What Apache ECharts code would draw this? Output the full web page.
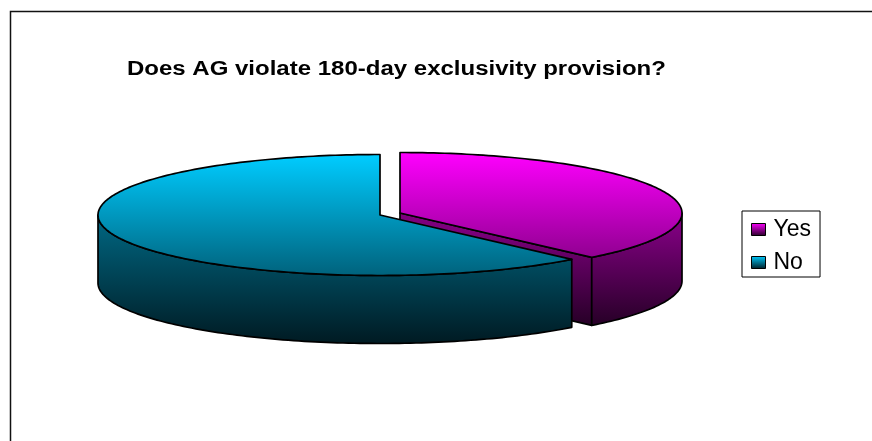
<!DOCTYPE html>
<html><head><meta charset="utf-8">
<style>html,body{margin:0;padding:0;background:#fff}#c{width:872px;height:441px}</style>
<script src="https://cdn.jsdelivr.net/npm/echarts@6/dist/echarts.min.js"></script>
</head><body><div id="c"></div>
<script>
const titleText = 'Does AG violate 180-day exclusivity provision?';
const categories = ['Yes', 'No'];
const shareValues = [38.1, 61.9];

const G = echarts.graphic.LinearGradient;
const rx = 282, ry = 60.5, depth = 68;
const layout = [
  {cx: 400, cy: 213, top: ['#ff00ff', '#7e007e'], topY: [152, 275], wall: ['#7c007c', '#240024'], wallY: [230, 328]},
  {cx: 380, cy: 215, top: ['#00ccff', '#00627c'], topY: [155, 276], wall: ['#006a86', '#001a22'], wallY: [212, 344]}
];
const total = shareValues.reduce((a, b) => a + b, 0);
const grad = (c, y) => new G(0, y[0], 0, y[1], [{offset: 0, color: c[0]}, {offset: 1, color: c[1]}], true);

function renderSlice(k, api) {
  const L = layout[k];
  let before = 0;
  for (let i = 0; i < k; i++) before += shareValues[i];
  const a0 = before / total * Math.PI * 2;
  const a1 = (before + api.value(0)) / total * Math.PI * 2;
  const P = (t, d) => [L.cx + rx * Math.sin(t), L.cy - ry * Math.cos(t) + (d || 0)];
  const arc = (s, e, d) => {
    const n = Math.max(2, Math.ceil(Math.abs(e - s) / 0.02)), out = [];
    for (let i = 0; i <= n; i++) out.push(P(s + (e - s) * i / n, d));
    return out;
  };
  const style = c => ({fill: c, stroke: '#000', lineWidth: 1.7, lineJoin: 'round'});
  const kids = [];
  const ws = Math.max(a0, Math.PI / 2), we = Math.min(a1, Math.PI * 1.5);
  if (k === 0) {
    const e = P(a1), ed = P(a1, depth);
    kids.push({type: 'polygon', shape: {points: [[L.cx, L.cy], e, ed, [L.cx, L.cy + depth]]}, style: style(grad(L.wall, L.wallY))});
  }
  if (we > ws) {
    const upper = arc(ws, we, 0), lower = arc(we, ws, depth);
    kids.push({type: 'polygon', shape: {points: upper.concat(lower)}, style: style(grad(L.wall, L.wallY))});
  }
  kids.push({type: 'polygon', shape: {points: [[L.cx, L.cy]].concat(arc(a0, a1, 0))}, style: style(grad(L.top, L.topY))});
  return {type: 'group', children: kids};
}

const chart = echarts.init(document.getElementById('c'), null, {renderer: 'canvas'});
chart.setOption({
  animation: false,
  backgroundColor: '#fff',
  legend: {
    orient: 'vertical', left: 742, top: 211,
    padding: [7, 9, 3, 9], itemGap: 10,
    itemWidth: 14, itemHeight: 12,
    borderColor: '#000', borderWidth: 1,
    backgroundColor: '#fff',
    textStyle: {fontFamily: 'Liberation Sans', fontSize: 23, lineHeight: 22, color: '#000', padding: [0, 0, 0, 3]},
    data: categories.map((name, i) => ({
      name, icon: 'rect',
      itemStyle: {
        color: new G(0, 0, 0, 1, [{offset: 0, color: layout[i].top[0]}, {offset: 1, color: layout[i].wall[1]}]),
        borderColor: '#000', borderWidth: 1
      }
    }))
  },
  graphic: [{
    type: 'polyline', silent: true,
    shape: {points: [[10.5, 441], [10.5, 11.5], [872, 11.5]]},
    style: {fill: null, stroke: '#111', lineWidth: 1.5}
  }, {
    type: 'text', silent: true, x: 127, y: 69, scaleX: 1.2,
    style: {text: titleText, fill: '#000', font: 'bold 20px "Liberation Sans"', textAlign: 'left', textVerticalAlign: 'middle'}
  }],
  series: categories.map((name, k) => ({
    type: 'custom', name, coordinateSystem: 'none', silent: true, clip: false,
    itemStyle: {color: layout[k].top[0]},
    data: [[shareValues[k]]],
    encode: {value: 0},
    renderItem: (params, api) => renderSlice(k, api)
  }))
});
</script></body></html>
